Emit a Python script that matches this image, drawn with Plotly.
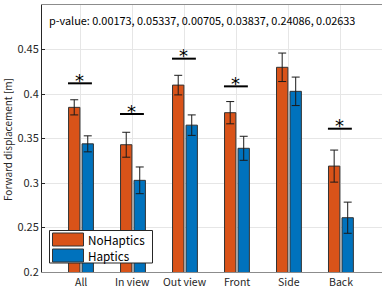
import plotly.graph_objects as go

categories = ["All", "In view", "Out view", "Front", "Side", "Back"]
no_haptics = [0.385, 0.343, 0.410, 0.379, 0.430, 0.319]
no_haptics_err = [0.0085, 0.014, 0.011, 0.0125, 0.016, 0.018]
haptics = [0.344, 0.303, 0.365, 0.339, 0.403, 0.261]
haptics_err = [0.009, 0.015, 0.0115, 0.0135, 0.016, 0.0175]
p_values = ["0.00173", "0.05337", "0.00705", "0.03837", "0.24086", "0.02633"]
significant = [True, True, True, True, False, True]
sig_line_y = [0.412, 0.3775, 0.4397, 0.4086, None, 0.361]
y_ticks = [0.2, 0.25, 0.3, 0.35, 0.4, 0.45, 0.5]

FONT = "Noto Sans CJK JP, Noto Sans, sans-serif"
ORANGE = "#D95319"
BLUE = "#0072BD"

x = list(range(1, len(categories) + 1))

W, H = 382, 289
L, T, R, B = 42, 5, 0, 17
pw, ph = W - L - R, H - T - B
def px(xp):
    return (xp - L) / pw
def py(yp):
    return 1 - (yp - T) / ph

fig = go.Figure()
fig.add_trace(go.Bar(
    x=x, y=no_haptics, name="NoHaptics", marker=dict(color=ORANGE, line=dict(color="#333333", width=1)),
    error_y=dict(type="data", array=no_haptics_err, color="#1a1a1a", thickness=1, width=4),
))
fig.add_trace(go.Bar(
    x=x, y=haptics, name="Haptics", marker=dict(color=BLUE, line=dict(color="#333333", width=1)),
    error_y=dict(type="data", array=haptics_err, color="#1a1a1a", thickness=1, width=4),
))

shapes = []
annotations = []
for xi, sig, ly in zip(x, significant, sig_line_y):
    if sig and ly is not None:
        shapes.append(dict(type="line", xref="x", yref="y", x0=xi - 0.25, x1=xi + 0.21,
                           y0=ly, y1=ly, line=dict(color="black", width=2)))
        annotations.append(dict(x=xi - 0.02, y=ly, xref="x", yref="y", text="*", showarrow=False,
                                yanchor="middle", yshift=3,
                                font=dict(family="DejaVu Sans", size=18, color="black")))

annotations.append(dict(x=px(47), y=py(20), xref="paper", yref="paper", xanchor="left", yanchor="middle",
                        text="p-value: " + ", ".join(p_values), showarrow=False,
                        font=dict(family=FONT, size=10.9, color="black")))

# x tick labels
for xi, c in zip(x, categories):
    annotations.append(dict(x=xi, y=py(281.8), xref="x", yref="paper", xanchor="center", yanchor="middle",
                            text=c, showarrow=False, font=dict(family=FONT, size=10.5, color="#262626")))

# y axis title
annotations.append(dict(x=px(7), y=py(140), xref="paper", yref="paper", xanchor="center", yanchor="middle",
                        text="Forward displacement [m]", textangle=-90, showarrow=False,
                        font=dict(family=FONT, size=10, color="#262626")))

# manual legend (MATLAB-style wide swatches)
shapes.append(dict(type="rect", xref="paper", yref="paper", x0=px(49.5), x1=px(152.5), y0=py(263), y1=py(230.5),
                   fillcolor="white", line=dict(color="#262626", width=1)))
for i, (name, col) in enumerate([("NoHaptics", ORANGE), ("Haptics", BLUE)]):
    yc = 239.5 + i * 16
    shapes.append(dict(type="rect", xref="paper", yref="paper", x0=px(52.5), x1=px(83.5),
                       y0=py(yc + 6.5), y1=py(yc - 6.5), fillcolor=col, line=dict(color="#333333", width=1)))
    annotations.append(dict(x=px(86), y=py(yc), xref="paper", yref="paper", xanchor="left", yanchor="middle",
                            text=name, showarrow=False, font=dict(family=FONT, size=11.7, color="black")))

fig.update_layout(
    width=W, height=H,
    margin=dict(l=L, r=R, t=T, b=B, autoexpand=False),
    paper_bgcolor="white", plot_bgcolor="white",
    barmode="group", bargap=0.48, bargroupgap=0.16,
    showlegend=False,
    shapes=shapes, annotations=annotations,
    font=dict(family=FONT, size=11, color="#262626"),
)
fig.update_xaxes(
    range=[0.25, 6.79], tickvals=x, showticklabels=False,
    showgrid=True, gridcolor="#e6e6e6", gridwidth=1,
    showline=True, linecolor="#8c8c8c", linewidth=1, mirror=True,
    ticks="", zeroline=False, automargin=False,
)
fig.update_yaxes(
    range=[0.2, 0.5], tickvals=y_ticks, ticktext=[f"{v:g}" for v in y_ticks],
    showgrid=True, gridcolor="#e6e6e6", gridwidth=1,
    showline=True, linecolor="#262626", linewidth=1,
    ticks="inside", ticklen=3, tickcolor="#262626",
    tickfont=dict(family=FONT, size=11, color="#262626"), zeroline=False, automargin=False,
)

fig.write_html("out.html", config={"displayModeBar": False},
               post_script="document.body.style.margin='0';document.body.style.overflow='hidden';")
